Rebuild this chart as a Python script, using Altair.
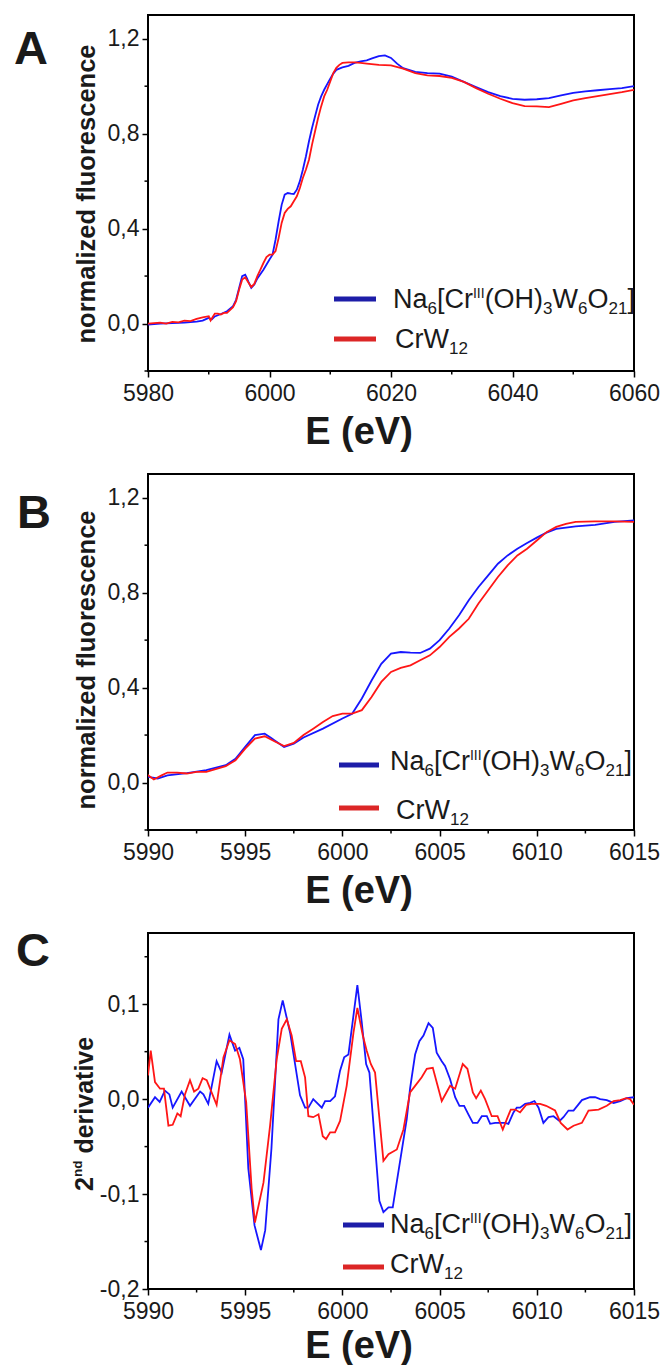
import altair as alt
import pandas as pd

# ---------------- data ----------------
# XANES spectra: (energy eV, normalized fluorescence)
na6_xanes = [
    (5980, -0.005), (5982, 0.0), (5984, 0.002), (5986, 0.004), (5988, 0.008), (5989, 0.012),
    (5990, 0.024), (5990.5, 0.017), (5991, 0.03), (5992, 0.04), (5993, 0.052), (5994, 0.073),
    (5994.5, 0.10), (5995, 0.15), (5995.5, 0.20), (5996, 0.206), (5996.3, 0.19), (5996.5, 0.178),
    (5997, 0.15), (5997.5, 0.164), (5998, 0.19), (5999, 0.227), (6000, 0.27), (6000.5, 0.29),
    (6001, 0.354), (6001.5, 0.43), (6002, 0.50), (6002.5, 0.543), (6003, 0.55), (6003.5, 0.547),
    (6004, 0.546), (6004.5, 0.564), (6005, 0.60), (6005.5, 0.649), (6006, 0.705), (6006.5, 0.768),
    (6007, 0.824), (6007.5, 0.873), (6008, 0.922), (6008.5, 0.957), (6009, 0.985), (6009.5, 1.009),
    (6010, 1.032), (6010.5, 1.053), (6011, 1.069), (6012, 1.079), (6013, 1.086), (6014, 1.098),
    (6015, 1.105), (6016, 1.109), (6017, 1.118), (6018, 1.127), (6019, 1.13), (6020, 1.119),
    (6021, 1.095), (6022, 1.076), (6024, 1.06), (6026, 1.055), (6028, 1.053), (6030, 1.04),
    (6032, 1.018), (6034, 0.996), (6036, 0.975), (6038, 0.958), (6040, 0.947), (6042, 0.943),
    (6044, 0.945), (6046, 0.95), (6048, 0.961), (6050, 0.972), (6052, 0.978), (6054, 0.983),
    (6056, 0.988), (6058, 0.992), (6060, 1.0),
]
crw_xanes = [
    (5980, 0.0), (5981, 0.002), (5982, 0.004), (5983, 0.0), (5984, 0.007), (5985, 0.005),
    (5986, 0.012), (5987, 0.01), (5988, 0.02), (5989, 0.026), (5990, 0.031), (5990.3, 0.013),
    (5990.7, 0.03), (5991, 0.042), (5991.5, 0.042), (5992, 0.038), (5992.5, 0.045), (5993, 0.045),
    (5994, 0.069), (5994.5, 0.094), (5995, 0.143), (5995.5, 0.185), (5996, 0.195), (5996.5, 0.174),
    (5997, 0.154), (5997.5, 0.167), (5998, 0.2), (5998.5, 0.227), (5999, 0.255), (5999.5, 0.28),
    (6000, 0.29), (6000.5, 0.29), (6001, 0.305), (6001.5, 0.36), (6002, 0.424), (6002.5, 0.466),
    (6003, 0.483), (6003.5, 0.494), (6004, 0.515), (6004.5, 0.536), (6005, 0.571), (6005.5, 0.614),
    (6006, 0.649), (6006.5, 0.69), (6007, 0.754), (6007.5, 0.81), (6008, 0.866), (6008.5, 0.915),
    (6009, 0.957), (6009.5, 0.985), (6010, 1.02), (6010.5, 1.055), (6011, 1.077), (6011.5, 1.09),
    (6012, 1.098), (6013, 1.1), (6014, 1.1), (6015, 1.098), (6016, 1.095), (6018, 1.09),
    (6020, 1.088), (6022, 1.074), (6024, 1.055), (6026, 1.046), (6028, 1.043), (6030, 1.035),
    (6032, 1.018), (6034, 0.992), (6036, 0.968), (6038, 0.947), (6040, 0.929), (6042, 0.916),
    (6044, 0.915), (6046, 0.912), (6048, 0.926), (6050, 0.94), (6052, 0.95), (6054, 0.958),
    (6056, 0.967), (6058, 0.975), (6060, 0.985),
]
# second derivatives: (energy eV, value)
na6_d2 = [
    (5990.0, -0.009), (5990.36, 0.002), (5990.6, -0.003), (5990.87, 0.009), (5991.1, 0.005),
    (5991.27, -0.009), (5991.73, 0.008), (5992.16, -0.007), (5992.68, 0.008), (5992.85, 0.005),
    (5993.1, -0.005), (5993.53, 0.04), (5993.79, 0.028), (5994.19, 0.068), (5994.48, 0.051),
    (5994.7, 0.054), (5994.9, 0.042), (5995.16, -0.073), (5995.48, -0.133), (5995.81, -0.159),
    (5996.03, -0.138), (5996.35, -0.052), (5996.71, 0.084), (5996.93, 0.104), (5997.31, 0.07),
    (5997.82, 0.004), (5998.08, -0.009), (5998.25, -0.009), (5998.5, 0.0), (5998.94, -0.009),
    (5999.11, -0.002), (5999.37, -0.002), (5999.62, 0.003), (5999.88, 0.03), (6000.09, 0.044),
    (6000.31, 0.047), (6000.77, 0.12), (6000.99, 0.082), (6001.22, 0.037), (6001.39, 0.028),
    (6001.9, -0.107), (6002.11, -0.119), (6002.37, -0.114), (6002.59, -0.114), (6003.31, -0.021),
    (6003.48, 0.011), (6003.74, 0.047), (6003.96, 0.061), (6004.17, 0.067), (6004.43, 0.08),
    (6004.65, 0.075), (6004.85, 0.049), (6005.11, 0.04), (6005.28, 0.035), (6005.54, 0.021),
    (6005.8, 0.002), (6006.02, -0.007), (6006.26, -0.007), (6006.48, -0.016), (6006.71, -0.025),
    (6006.95, -0.025), (6007.17, -0.018), (6007.43, -0.018), (6007.6, -0.026), (6007.86, -0.025),
    (6008.37, -0.025), (6008.54, -0.026), (6008.8, -0.014), (6008.97, -0.009), (6009.14, -0.009),
    (6009.4, -0.005), (6009.66, -0.004), (6009.88, -0.002), (6010.09, -0.009), (6010.34, -0.025),
    (6010.6, -0.019), (6010.86, -0.018), (6011.17, -0.023), (6011.37, -0.019), (6011.63, -0.012),
    (6011.89, -0.012), (6012.32, -0.001), (6012.74, 0.002), (6013.0, 0.002), (6013.26, 0.0),
    (6013.6, -0.001), (6013.95, -0.004), (6014.29, -0.002), (6014.63, 0.001), (6015.0, 0.002),
]
crw_d2 = [
    (5990.0, 0.025), (5990.14, 0.051), (5990.36, 0.018), (5990.62, 0.011), (5990.82, 0.011),
    (5991.05, -0.028), (5991.27, -0.027), (5991.51, -0.015), (5991.68, -0.018), (5991.9, 0.005),
    (5992.16, 0.02), (5992.37, 0.008), (5992.59, 0.011), (5992.81, 0.022), (5993.02, 0.02),
    (5993.53, -0.006), (5993.88, 0.044), (5994.19, 0.062), (5994.48, 0.058), (5994.73, 0.042),
    (5995.05, -0.003), (5995.33, -0.094), (5995.5, -0.13), (5995.94, -0.088), (5996.28, -0.028),
    (5996.62, 0.042), (5996.88, 0.074), (5997.14, 0.084), (5997.39, 0.067), (5997.62, 0.04),
    (5997.86, 0.04), (5998.08, 0.023), (5998.25, -0.018), (5998.5, -0.019), (5998.77, -0.016),
    (5998.99, -0.039), (5999.16, -0.042), (5999.37, -0.035), (5999.62, -0.035), (5999.88, -0.023),
    (6000.22, 0.014), (6000.57, 0.07), (6000.77, 0.096), (6001.05, 0.067), (6001.25, 0.051),
    (6001.46, 0.037), (6001.68, 0.028), (6002.11, -0.065), (6002.37, -0.058), (6002.8, -0.053),
    (6003.14, -0.032), (6003.48, 0.007), (6003.74, 0.014), (6004.08, 0.023), (6004.34, 0.032),
    (6004.65, 0.033), (6005.11, -0.002), (6005.54, 0.014), (6005.8, 0.011), (6006.19, 0.037),
    (6006.43, 0.032), (6006.71, 0.007), (6006.88, 0.001), (6007.12, 0.009), (6007.34, 0.0),
    (6007.68, -0.018), (6007.98, -0.018), (6008.25, -0.032), (6008.46, -0.021), (6008.66, -0.011),
    (6008.89, -0.011), (6009.14, -0.014), (6009.45, -0.006), (6009.74, -0.005), (6010.17, -0.005),
    (6010.48, -0.007), (6010.94, -0.012), (6011.23, -0.025), (6011.58, -0.032), (6011.89, -0.028),
    (6012.32, -0.025), (6012.66, -0.012), (6013.18, -0.011), (6013.6, -0.007), (6013.95, -0.002),
    (6014.29, -0.001), (6014.6, 0.001), (6014.8, 0.0), (6015.0, -0.006),
]

series_names = ["Na6", "CrW12"]

xA_major = [5980, 6000, 6020, 6040, 6060]
xA_minor = [5990, 6010, 6030, 6050]
xB_major = [5990, 5995, 6000, 6005, 6010, 6015]
xB_minor = [5992.5, 5997.5, 6002.5, 6007.5, 6012.5]
yA_major = [0.0, 0.4, 0.8, 1.2]
yA_minor = [-0.2, 0.2, 0.6, 1.0]
yC_major = [-0.2, -0.1, 0.0, 0.1]
yC_minor = [-0.15, -0.05, 0.05, 0.15]

# ---------------- styling ----------------
BLUE, RED = "#1616ff", "#ff1616"
LEG_BLUE, LEG_RED = "#1d1da8", "#dc2626"
FONT = "Liberation Sans"
TXT = "#1a1a1a"
W, H = 486, 356

REG = {"N": 722, "a": 556, "[": 278, "C": 722, "r": 333, "I": 278, "(": 333, "O": 778,
       "H": 722, ")": 333, "W": 944, "]": 278}
BOLD = {"2": 556, "n": 611, "d": 611, " ": 278, "e": 556, "r": 389, "i": 278, "v": 556,
        "a": 556, "t": 333}


def tw(s, size, bold=False):
    tab = BOLD if bold else REG
    return sum(tab.get(c, 556) for c in s) * size / 1000.0


ONE = pd.DataFrame({"k": [0]})


def txt(text, x, y, size, bold=False, angle=0, align="left", baseline="alphabetic", color=TXT):
    kw = dict(text=text, fontSize=size, font=FONT, fontWeight="bold" if bold else "normal",
              align=align, baseline=baseline, color=color)
    if angle:
        kw["angle"] = angle
    return alt.Chart(ONE).mark_text(**kw).encode(x=alt.value(x), y=alt.value(y))


def rich(pieces, x0, y0):
    out = []
    x = x0
    for t, size, shift in pieces:
        out.append(txt(t, x, y0 + shift, size))
        x += tw(t, size)
    return out


NA6_PIECES = [("Na", 27, 0), ("6", 17, 6), ("[Cr", 27, 0), ("III", 14, -10), ("(OH)", 27, 0),
              ("3", 17, 6), ("W", 27, 0), ("6", 17, 6), ("O", 27, 0), ("21", 17, 6), ("]", 27, 0)]
CRW_PIECES = [("CrW", 27, 0), ("12", 17, 6)]


def legend(lx1, lx2, yb, yr, tbx, tby, trx, tr_y):
    out = [
        alt.Chart(ONE).mark_rule(color=LEG_BLUE, strokeWidth=5, strokeCap="butt").encode(
            x=alt.value(lx1), x2=alt.value(lx2), y=alt.value(yb)),
        alt.Chart(ONE).mark_rule(color=LEG_RED, strokeWidth=5, strokeCap="butt").encode(
            x=alt.value(lx1), x2=alt.value(lx2), y=alt.value(yr)),
    ]
    out += rich(NA6_PIECES, tbx, tby)
    out += rich(CRW_PIECES, trx, tr_y)
    return out


YLAB = "replace(replace(format(datum.value, '.1f'), '.', ','), '\u2212', '-')"


def panel(data, xdom, xmaj, xmin, ydom, ymaj, ymin, extra):
    xs = alt.Scale(domain=xdom, nice=False, zero=False)
    ys = alt.Scale(domain=ydom, nice=False, zero=False)
    xax = alt.Axis(values=xmaj, format="d", title=None, labelFlush=False)
    yax = alt.Axis(values=ymaj, labelExpr=YLAB, title=None, labelFlush=False)
    lines = alt.Chart(data).mark_line(clip=True, strokeWidth=1.8).encode(
        x=alt.X("E:Q", scale=xs, axis=xax),
        y=alt.Y("v:Q", scale=ys, axis=yax),
        color=alt.Color("s:N", scale=alt.Scale(domain=series_names, range=[BLUE, RED]), legend=None),
    )
    xm = alt.Chart(pd.DataFrame({"E": xmin})).mark_rule(color="black", strokeWidth=1.5).encode(
        x=alt.X("E:Q", scale=xs, axis=xax), y=alt.value(H), y2=alt.value(H + 3.5))
    ym = alt.Chart(pd.DataFrame({"v": ymin})).mark_rule(color="black", strokeWidth=1.5).encode(
        y=alt.Y("v:Q", scale=ys, axis=yax), x=alt.value(-3.5), x2=alt.value(0))
    return alt.layer(lines, xm, ym, *extra).properties(width=W, height=H)


def frame(pairs_a, pairs_b):
    rows = [{"E": e, "v": v, "s": "Na6"} for e, v in pairs_a]
    rows += [{"E": e, "v": v, "s": "CrW12"} for e, v in pairs_b]
    return pd.DataFrame(rows)


xanes = frame(na6_xanes, crw_xanes)
deriv = frame(na6_d2, crw_d2)

NF = "normalized fluorescence"

extraA = [
    txt("A", -134, 49, 47, bold=True),
    txt(NF, -53, 179, 25.5, bold=True, angle=270, align="center"),
    txt("E (eV)", 211, 429, 38, bold=True, align="center"),
] + legend(186, 228, 284, 324, 245, 293, 247, 333)

extraB = [
    txt("B", -131, 54, 47, bold=True),
    txt(NF, -53, 186, 25.5, bold=True, angle=270, align="center"),
    txt("E (eV)", 211, 429, 38, bold=True, align="center"),
] + legend(191, 231, 291, 334, 242, 296, 248, 345)

# rotated "2nd derivative" built from pieces (reading bottom to top)
c_title = []
y_cur = 258
for t, size, shift, gap in [("2", 25, 0, 0), ("nd", 13.5, -11, 7), ("derivative", 25, 0, 0)]:
    c_title.append(txt(t, -55 + shift, y_cur, size, bold=True, angle=270))
    y_cur -= tw(t, size, bold=True) + gap

extraC = [
    txt("C", -132, 33, 47, bold=True),
    txt("E (eV)", 211, 425, 38, bold=True, align="center"),
] + c_title + legend(195, 236, 292, 334, 242, 300, 242, 340)

pA = panel(xanes, [5980, 6060], xA_major, xA_minor, [-0.2, 1.3], yA_major, yA_minor, extraA)
pB = panel(xanes, [5990, 6015], xB_major, xB_minor, [-0.2, 1.3], yA_major, yA_minor, extraB)
pC = panel(deriv, [5990, 6015], xB_major, xB_minor, [-0.2, 0.175], yC_major, yC_minor, extraC)

chart = alt.vconcat(pA, pB, pC, spacing=103, bounds="flush").properties(
    padding={"left": 13, "top": 14, "right": 0, "bottom": 0}
).configure_view(
    stroke="black", strokeWidth=2
).configure_axis(
    domain=False, grid=False, labelFont=FONT, labelFontSize=23, labelColor=TXT,
    tickColor="black", tickWidth=1.5, tickSize=6, labelPadding=4, labelFlush=False,
    labelOverlap=False,
).configure_axisX(labelPadding=5).configure_axisY(labelPadding=3)

chart.save("out.html", embed_options={"renderer": "svg", "actions": False})
